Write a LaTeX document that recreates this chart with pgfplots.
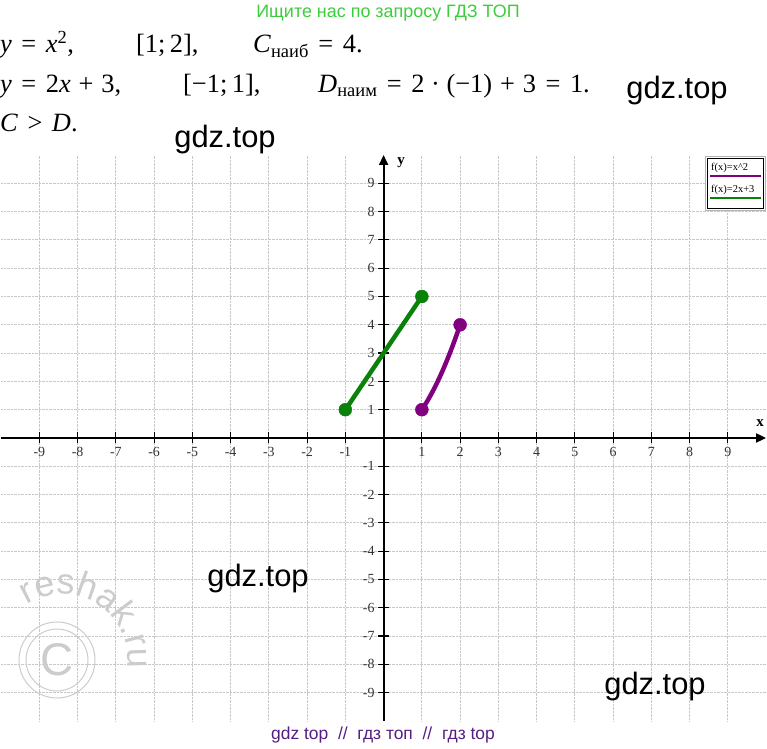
\documentclass[border=0pt]{standalone}
\usepackage{fontspec}
\setmainfont{Liberation Serif}
\newfontfamily\sansf{Liberation Sans}
\usepackage{pgfplots}
\pgfplotsset{compat=1.18}
\usetikzlibrary{arrows.meta,decorations.text}

\definecolor{hdrgreen}{RGB}{60,205,60}
\definecolor{ftpurple}{RGB}{85,30,130}
\definecolor{lgreen}{RGB}{10,130,10}
\definecolor{lpurple}{RGB}{128,0,128}
\definecolor{gridc}{RGB}{200,200,200}

\newcommand\mv[1]{\textit{#1}}
\newcommand\eq{\kern.36em=\kern.36em}
\newcommand\pl{\kern.3em+\kern.3em}

\begin{document}
\begin{tikzpicture}[x=1bp,y=1bp]
\begin{axis}[
  at={(1.1bp,28bp)}, anchor=south west,
  scale only axis, width=765bp, height=566bp,
  xmin=-10, xmax=10, ymin=-10, ymax=10,
  axis lines=middle,
  axis line style={line width=1.8bp, -{Triangle[length=10bp,width=9bp]}},
  xtick={-9,-8,...,-1,1,2,...,9},
  ytick={-9,-8,...,-1,1,2,...,9},
  tick align=center,
  major tick length=11bp,
  tick style={black, line width=1.2bp},
  grid=major,
  grid style={gridc, densely dotted, line width=0.8bp},
  tick label style={font=\fontsize{14}{14}\selectfont, text=black!80},
  /pgf/number format/assume math mode=true,
  xticklabel style={anchor=north, yshift=0bp},
  yticklabel style={anchor=east, xshift=0bp},
  clip=false,
]
% y = 2x + 3 on [-1;1]
\addplot[lgreen, line width=4.5bp] coordinates {(-1,1) (1,5)};
% y = x^2 on [1;2]
\addplot[lpurple, line width=4.5bp, smooth] coordinates {
  (1,1) (1.1,1.21) (1.2,1.44) (1.3,1.69) (1.4,1.96) (1.5,2.25)
  (1.6,2.56) (1.7,2.89) (1.8,3.24) (1.9,3.61) (2,4)};
\addplot[only marks, mark=*, mark size=6.5bp, lgreen] coordinates {(-1,1) (1,5)};
\addplot[only marks, mark=*, mark size=6.5bp, lpurple] coordinates {(1,1) (2,4)};
\end{axis}

% axis names
\node[font=\bfseries\fontsize{15}{15}\selectfont] at (401,586) {y};
\node[font=\bfseries\fontsize{15}{15}\selectfont] at (760,326) {x};

% legend box
\draw[gray!60, line width=0.6bp, fill=white] (705,539) rectangle (765,593);
\draw[black, line width=0.8bp] (707,541) rectangle (763,591);
\node[anchor=base west, inner sep=0, font=\fontsize{10.5}{11}\selectfont] at (711,578) {f(x)=x\textasciicircum 2};
\draw[lpurple, line width=2.2bp] (710,573) -- (761,573);
\node[anchor=base west, inner sep=0, font=\fontsize{10.5}{11}\selectfont] at (711,556) {f(x)=2x+3};
\draw[lgreen, line width=2.2bp] (710,551) -- (761,551);

% header
\node[anchor=base, inner sep=0, text=hdrgreen, font=\sansf\fontsize{18}{18}\selectfont] at (388,731) {Ищите нас по запросу ГДЗ ТОП};

% worked solution
\begin{scope}[every node/.style={anchor=base west, inner sep=0, font=\fontsize{26.5}{30}\selectfont}]
\node at (0,696) {\mv{y}\eq\mv{x}\textsuperscript{2},};
\node at (136,696) {[1;\kern.17em2],};
\node at (253,696) {\mv{C}\textsubscript{наиб}\eq 4.};
\node at (0,656) {\mv{y}\eq 2\mv{x}\pl 3,};
\node at (183,656) {[−1;\kern.17em1],};
\node at (318,656) {\mv{D}\textsubscript{наим}\eq 2\kern.25em·\kern.25em(−1)\pl 3\eq 1.};
\node at (0,617) {\mv{C}\kern.36em>\kern.36em\mv{D}.};
\end{scope}

% watermarks
\begin{scope}[every node/.style={inner sep=0, font=\sansf\fontsize{31}{31}\selectfont}]
\node at (677,658) {gdz.top};
\node at (225,609) {gdz.top};
\node at (258,170) {gdz.top};
\node at (655,62) {gdz.top};
\end{scope}

\draw[gray!40, line width=1bp] (57,89) circle (38);
\draw[gray!40, line width=1bp] (57,89) circle (31);
\node[text=gray!40, font=\sansf\fontsize{46}{46}\selectfont] at (57,89) {C};
\path[decorate, decoration={text along path, text align=center,
  text={|\sansf\fontsize{36}{36}\selectfont\color{gray!40}|reshak.ru}}]
  (62,89) ++(135:66) arc[start angle=135, end angle=-20, radius=66];

% footer
\node[anchor=base, inner sep=0, text=ftpurple, font=\sansf\fontsize{17.5}{17.5}\selectfont] at (383,9) {gdz top \ // \ гдз топ \ // \ гдз top};

\pgfresetboundingbox
\path[use as bounding box] (0,0) rectangle (767,749);
\end{tikzpicture}
\end{document}
